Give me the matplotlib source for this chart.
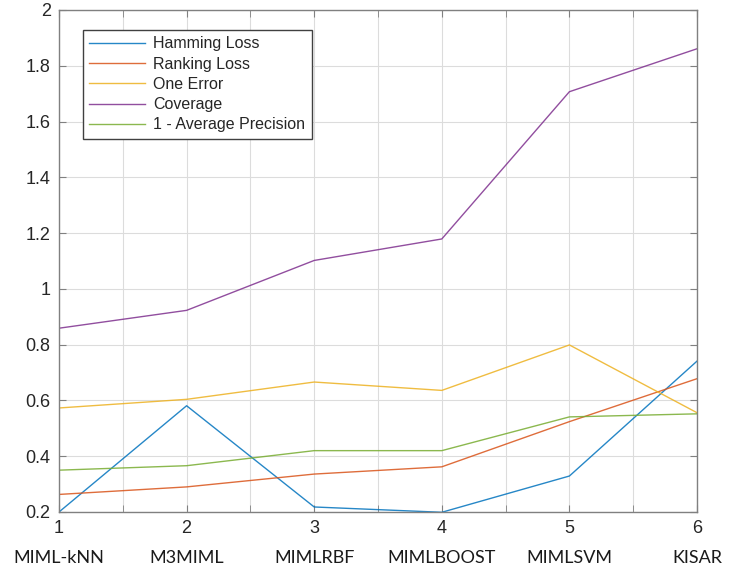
import matplotlib
matplotlib.use("Agg")
import matplotlib.pyplot as plt
import matplotlib.transforms as mtransforms

x = [1, 2, 3, 4, 5, 6]
methods = ["MIML-kNN", "M3MIML", "MIMLRBF", "MIMLBOOST", "MIMLSVM", "KISAR"]
hamming = [0.200, 0.581, 0.218, 0.199, 0.329, 0.741]
ranking = [0.263, 0.290, 0.336, 0.362, 0.524, 0.678]
one_error = [0.573, 0.604, 0.666, 0.636, 0.799, 0.556]
coverage = [0.859, 0.923, 1.102, 1.179, 1.707, 1.861]
avg_prec = [0.350, 0.366, 0.420, 0.420, 0.541, 0.552]

series = [
    ("Hamming Loss", hamming, "#0072BD"),
    ("Ranking Loss", ranking, "#D95319"),
    ("One Error", one_error, "#EDB120"),
    ("Coverage", coverage, "#7E2F8E"),
    ("1 - Average Precision", avg_prec, "#77AC30"),
]

plt.rcParams['font.family'] = ['Liberation Sans', 'DejaVu Sans']
fig = plt.figure(figsize=(7.43, 5.69), dpi=100)
ax = fig.add_axes([59/743, 1-512/569, 638/743, 502/569])

for name, vals, col in series:
    ax.plot(x, vals, color=col, lw=1.0, label=name, alpha=0.85)

ax.set_xlim(1, 6)
ax.set_ylim(0.2, 2.0)
ax.set_xticks([1, 2, 3, 4, 5, 6])
ax.set_xticks([1.5, 2.5, 3.5, 4.5, 5.5], minor=True)
ax.set_yticks([0.2, 0.4, 0.6, 0.8, 1.0, 1.2, 1.4, 1.6, 1.8, 2.0])
ax.set_yticklabels(["0.2", "0.4", "0.6", "0.8", "1", "1.2", "1.4", "1.6", "1.8", "2"])
ax.grid(True, which='both', color='#dcdcdc', lw=0.8)
ax.set_axisbelow(True)
ax.tick_params(which='both', direction='in', top=True, right=True, length=5,
               color='#808080', labelsize=13, labelcolor='#262626', pad=6)
for s in ax.spines.values():
    s.set_color('#808080')
    s.set_linewidth(1.0)

trans = mtransforms.blended_transform_factory(ax.transData, ax.transAxes)
for xi, m in zip(x, methods):
    ax.text(xi, -0.091, m, transform=trans, ha='center', va='center',
            fontsize=13, family=['Lato', 'DejaVu Sans'], color='#1a1a1a')

leg = ax.legend(loc='upper left', bbox_to_anchor=(24/638, 1-20/502), borderaxespad=0,
                fancybox=False, edgecolor='#404040', fontsize=11.5, handlelength=3.5,
                labelspacing=0.33, borderpad=0.4, handletextpad=0.5, framealpha=1)
leg.get_frame().set_linewidth(1.0)
for t in leg.get_texts():
    t.set_color('#262626')

fig.savefig("out.png", dpi=100)
